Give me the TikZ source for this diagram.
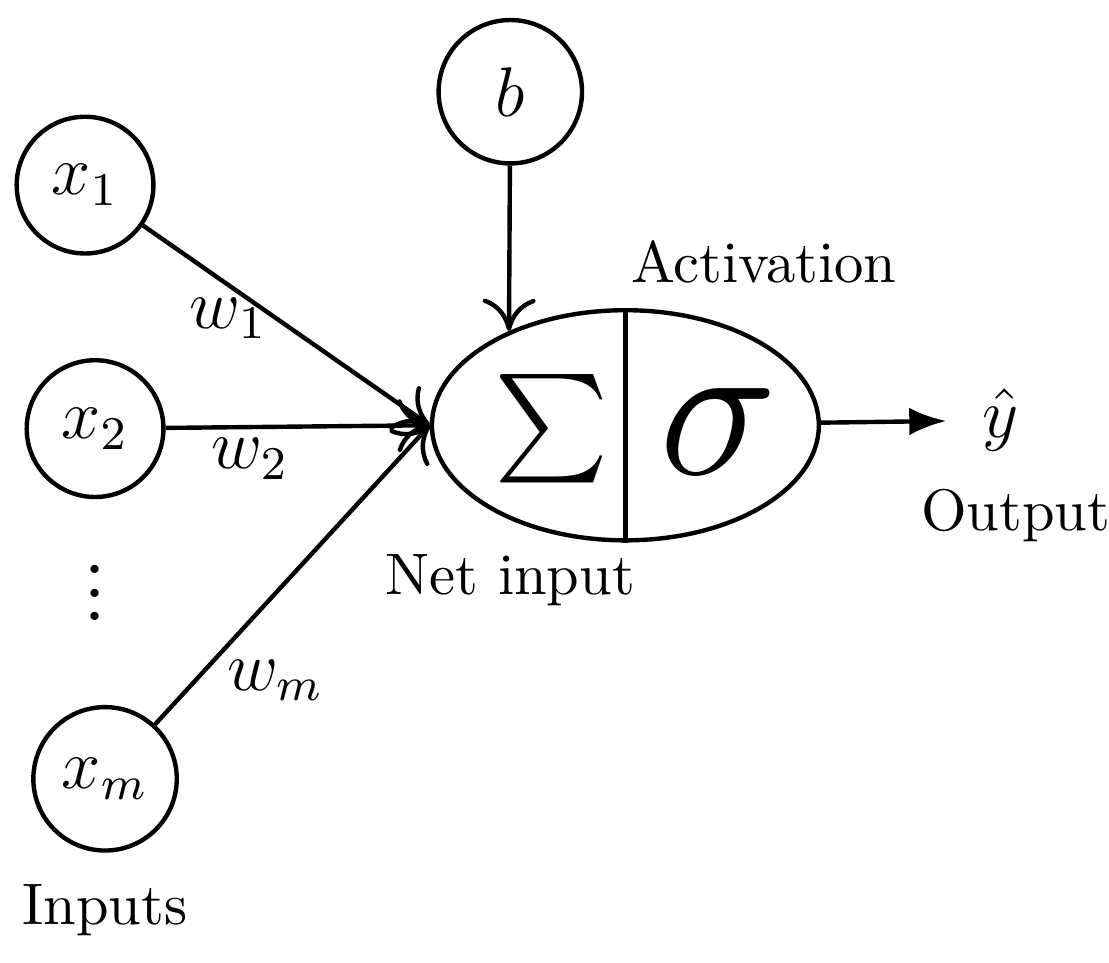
\RequirePackage{fix-cm}
\documentclass[tikz,border=0pt]{standalone}
\usepackage{amsmath,amssymb}
\usetikzlibrary{positioning,arrows.meta,shapes.geometric}

\begin{document}
\begin{tikzpicture}[
  font=\normalsize,
  >={To[length=5.5pt,width=9pt]},
  innode/.style={circle, draw=black, line width=0.75pt, minimum size=8.2mm, inner sep=1pt, font=\large},
  sumnode/.style={ellipse, draw=black, line width=0.75pt, minimum width=23.2mm, minimum height=13.8mm, inner sep=0pt},
  wlabel/.style={font=\large},
  wmap/.style={->, draw=black, line width=0.75pt},
  outmap/.style={-{Latex[length=6.3pt,width=4.7pt]}, draw=black, line width=0.75pt}
]
  \useasboundingbox (0,0) rectangle (6.65,-5.77);
  \node[innode] (x1) at (0.51,-1.11) {$x_{1}$};
  \node[innode] (x2) at (0.57,-2.57) {$x_{2}$};
  \node[innode, minimum size=8.6mm] (xm) at (0.63,-4.67) {$x_{m}$};
  \node[innode, minimum size=8.6mm] (b) at (3.06,-0.55) {$b$};
  \node[font=\fontsize{14.5}{17}\selectfont] (vd) at (0.57,-3.45) {$\vdots$};
  \node[sumnode] (sum) at (3.75,-2.55) {};
  \draw[line width=0.75pt] (sum.north) -- (sum.south);
  \node[font=\fontsize{18.5}{22}\selectfont, inner sep=0pt] (sigma) at (3.31,-2.57) {$\textstyle\sum$};
  \node[font=\fontsize{34}{40}\selectfont, inner sep=0pt] (act) at (4.31,-2.59) {$\sigma$};
  \node[wlabel, inner sep=6pt] (yhat) at (6.0,-2.52) {$\hat{y}$};
  \node[wlabel] (w1) at (1.37,-1.91) {$w_{1}$};
  \node[wlabel] (w2) at (1.50,-2.75) {$w_{2}$};
  \node[wlabel] (wm) at (1.65,-4.08) {$w_{m}$};
  \node (actlabel) at (4.58,-1.57) {Activation};
  \node (netlabel) at (3.06,-3.48) {Net input};
  \node (outlabel) at (6.09,-3.09) {Output};
  \node (inlabel) at (0.63,-5.46) {Inputs};
  \draw[wmap] (x1) -- (sum.west);
  \draw[wmap] (x2) -- (sum.west);
  \draw[wmap] (xm) -- (sum.west);
  \draw[wmap] (b) -- (sum.141);
  \draw[outmap] (sum) -- (yhat);
\end{tikzpicture}
\end{document}
